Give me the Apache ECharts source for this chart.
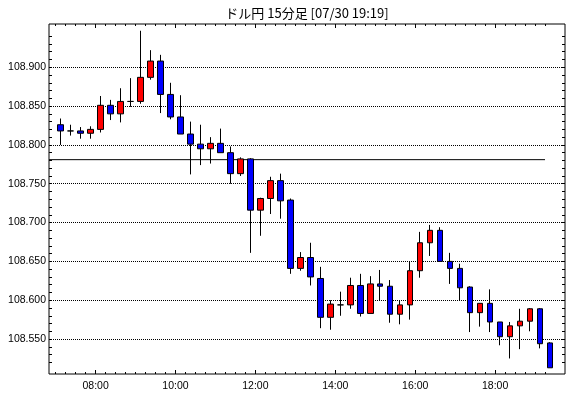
<!DOCTYPE html>
<html>
<head>
<meta charset="utf-8">
<script src="https://cdn.jsdelivr.net/npm/echarts@6/dist/echarts.min.js"></script>
<style>
html,body{margin:0;padding:0;background:#fff;}
#chart{width:570px;height:398px;}
</style>
</head>
<body>
<div id="chart"></div>
<script>
// 15-minute candle start times
var times = ['07:00','07:15','07:30','07:45','08:00','08:15','08:30','08:45','09:00','09:15','09:30','09:45',
  '10:00','10:15','10:30','10:45','11:00','11:15','11:30','11:45','12:00','12:15','12:30','12:45',
  '13:00','13:15','13:30','13:45','14:00','14:15','14:30','14:45','15:00','15:15','15:30','15:45',
  '16:00','16:15','16:30','16:45','17:00','17:15','17:30','17:45','18:00','18:15','18:30','18:45',
  '19:00','19:15'];
var opens = [108.826,108.818,108.818,108.815,108.820,108.851,108.840,108.856,108.856,108.887,108.908,108.865,
  108.836,108.814,108.801,108.795,108.802,108.790,108.763,108.782,108.716,108.731,108.754,108.729,
  108.641,108.655,108.628,108.578,108.594,108.594,108.619,108.583,108.621,108.618,108.582,108.594,
  108.638,108.674,108.690,108.650,108.641,108.617,108.584,108.596,108.572,108.553,108.567,108.573,
  108.589,108.545];
var closes = [108.818,108.818,108.815,108.820,108.851,108.840,108.856,108.856,108.887,108.908,108.865,108.836,
  108.814,108.801,108.795,108.802,108.790,108.763,108.782,108.716,108.731,108.754,108.728,108.641,
  108.655,108.630,108.578,108.595,108.594,108.619,108.583,108.621,108.618,108.582,108.594,108.638,
  108.674,108.690,108.650,108.641,108.616,108.584,108.596,108.572,108.553,108.567,108.573,108.589,
  108.544,108.513];
var lows = [108.800,108.812,108.808,108.808,108.816,108.832,108.829,108.849,108.853,108.884,108.841,108.833,
  108.814,108.762,108.774,108.776,108.790,108.750,108.760,108.661,108.683,108.711,108.705,108.634,
  108.638,108.619,108.564,108.562,108.580,108.589,108.579,108.583,108.600,108.571,108.569,108.575,
  108.629,108.657,108.650,108.621,108.600,108.559,108.566,108.559,108.542,108.525,108.537,108.560,
  108.538,108.513];
var highs = [108.834,108.826,108.823,108.824,108.863,108.858,108.873,108.886,108.947,108.922,108.916,108.880,
  108.864,108.830,108.826,108.810,108.821,108.798,108.784,108.783,108.732,108.759,108.763,108.731,
  108.662,108.674,108.643,108.600,108.611,108.629,108.634,108.631,108.639,108.626,108.600,108.650,
  108.688,108.697,108.694,108.661,108.647,108.618,108.596,108.614,108.572,108.572,108.589,108.590,
  108.590,108.546];
var refLevel = 108.781;
var refLineEnd = '19:15';
var yTickLabels = [108.55,108.60,108.65,108.70,108.75,108.80,108.85,108.90];
var yMinorTicks = [108.52,108.53,108.54,108.55,108.56,108.57,108.58,108.59,108.60,108.61,108.62,108.63,
  108.64,108.65,108.66,108.67,108.68,108.69,108.70,108.71,108.72,108.73,108.74,108.75,108.76,108.77,
  108.78,108.79,108.80,108.81,108.82,108.83,108.84,108.85,108.86,108.87,108.88,108.89,108.90,108.91,
  108.92,108.93,108.94];
var xTickLabels = ['08:00','10:00','12:00','14:00','16:00','18:00'];
var axisStart = '06:50', axisEnd = '19:45';
var yMin = 108.5050, yMax = 108.9557;

function toMin(t){ var p = t.split(':'); return (+p[0])*60 + (+p[1]); }
function fmt(m){ var h = Math.floor(m/60), mm = Math.round(m%60); return (h<10?'0':'')+h+':'+(mm<10?'0':'')+mm; }

var candleData = times.map(function(t,i){ return [toMin(t)+7.5, opens[i], closes[i], lows[i], highs[i]]; });
var majorX = xTickLabels.map(toMin);
var minorX = times.map(toMin);
var xmin = toMin(axisStart), xmax = toMin(axisEnd);

function xAx(pos, ticks, len, labels){
  return {
    type:'value', position:pos, min:xmin, max:xmax,
    axisLine:{show:false},
    axisTick:{show:true, inside:true, length:len, customValues:ticks, lineStyle:{color:'#000', width:1}},
    axisLabel: labels ? {show:true, customValues:ticks, formatter:function(v){return fmt(v);}, color:'#000',
      fontFamily:'Liberation Sans', fontSize:10.5, margin:7} : {show:false},
    splitLine:{show:false}
  };
}
function yAx(pos, ticks, len, labels, split){
  return {
    type:'value', position:pos, min:yMin, max:yMax, scale:true,
    axisLine:{show:false},
    axisTick:{show:true, inside:true, length:len, customValues:ticks, lineStyle:{color:'#000', width:1}},
    axisLabel: labels ? {show:true, customValues:ticks, formatter:function(v){return v.toFixed(3);}, color:'#000',
      fontFamily:'Liberation Sans', fontSize:10.5, margin:3} : {show:false},
    splitLine: split ? {show:true, lineStyle:{color:'#000', width:1, type:[1,1]}} : {show:false}
  };
}

var chart = echarts.init(document.getElementById('chart'), null, {renderer:'canvas'});
chart.setOption({
  animation:false,
  backgroundColor:'#fff',
  grid:{left:49, right:5, top:24, bottom:24, show:true, borderColor:'#000', borderWidth:1, backgroundColor:'transparent'},
  graphic:[{type:'text', x:307, y:13, z:100, style:{text:'ドル円 15分足 [07/30 19:19]', textAlign:'center', textVerticalAlign:'middle',
    font:'13px "Noto Sans CJK JP"', fill:'#000'}}],
  xAxis:[xAx('bottom', majorX, 4, true), xAx('bottom', minorX, 2, false), xAx('top', majorX, 4, false), xAx('top', minorX, 2, false)],
  yAxis:[yAx('left', yTickLabels, 3, true, true), yAx('left', yMinorTicks, 3, false, false), yAx('right', yMinorTicks, 3, false, false)],
  series:[
    {type:'line', xAxisIndex:0, yAxisIndex:0, data:[[xmin, refLevel],[toMin(refLineEnd), refLevel]], symbol:'none',
      lineStyle:{color:'#000', width:1}, silent:true, z:1},
    {type:'candlestick', xAxisIndex:0, yAxisIndex:0, data:candleData, encode:{x:0, y:[1,2,3,4]}, barWidth:6,
      itemStyle:{color:'#ff0000', color0:'#0000ff', borderColor:'#000', borderColor0:'#000', borderColorDoji:'#000', borderWidth:1}, z:3}
  ]
});
</script>
</body>
</html>
